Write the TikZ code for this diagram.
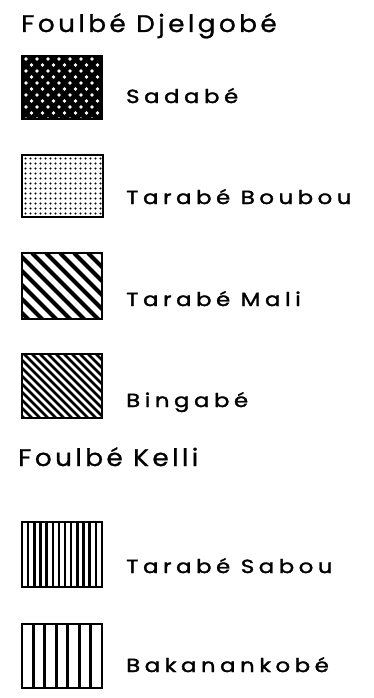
\documentclass[tikz,border=0pt]{standalone}
\usepackage{fontspec}
\setmainfont{Poppins}
\newfontfamily\titlefont[LetterSpace=14,FakeStretch=1.1,FakeBold=1]{Poppins}
\newfontfamily\labelfont[LetterSpace=24,FakeStretch=1.2,FakeBold=1.8]{Poppins}
\begin{document}
\begin{tikzpicture}[x=1pt,y=-1pt]
\useasboundingbox (0,0) rectangle (374,698);
\tikzset{
  legendbox/.style={draw=black, line width=2.8pt, minimum width=80pt, inner sep=0pt, outer sep=0pt},
  grouptitle/.style={anchor=base west, inner sep=0pt, font=\titlefont\fontsize{24}{24}\selectfont},
  legendlabel/.style={anchor=base west, inner sep=0pt, font=\labelfont\fontsize{19}{19}\selectfont},
}
% Box 1: black with white staggered dots
\begin{scope}
  \clip (22,56) rectangle (102,119);
  \fill[black] (22,56) rectangle (102,119);
  \foreach \r in {0,...,10} \foreach \c in {0,...,7}
    \fill[white] ({26+5.5*mod(\r,2)+11*\c},{59+6*\r}) circle (1.8pt);
\end{scope}
\node[legendbox, minimum height=63pt] (b1) at (62,87.5) {};
% Box 2: fine black dot grid
\begin{scope}
  \clip (22,155) rectangle (103,217);
  \foreach \r in {0,...,12} \foreach \c in {0,...,15}
    \fill[black] ({25.5+5*\c},{158.5+5*\r}) circle (1.2pt);
\end{scope}
\node[legendbox, minimum width=81pt, minimum height=62pt] (b2) at (62.5,186) {};
% Box 3: wide diagonal lines
\begin{scope}
  \clip (22,253) rectangle (102,319);
  \foreach \k in {0,...,13}
    \draw[line width=4.2pt] ({-80+14*\k},253) -- ({20+14*\k},353);
\end{scope}
\node[legendbox, minimum height=66pt] (b3) at (62,286) {};
% Box 4: fine diagonal lines
\begin{scope}
  \clip (22,354) rectangle (102,418);
  \foreach \k in {0,...,23}
    \draw[line width=2.6pt] ({-80+8*\k},354) -- ({20+8*\k},454);
\end{scope}
\node[legendbox, minimum height=64pt] (b4) at (62,386) {};
% Box 5: fine vertical lines
\begin{scope}
  \clip (22,522) rectangle (102,587);
  \foreach \k in {1,...,12}
    \draw[line width=2.4pt] ({22+6.154*\k},522) -- ({22+6.154*\k},587);
\end{scope}
\node[legendbox, minimum height=65pt] (b5) at (62,554.5) {};
% Box 6: wide vertical lines
\begin{scope}
  \clip (22,624) rectangle (102,688);
  \foreach \k in {1,...,6}
    \draw[line width=2.8pt] ({22+11.43*\k},624) -- ({22+11.43*\k},688);
\end{scope}
\node[legendbox, minimum height=64pt] (b6) at (62,656) {};
% Texts
\node[grouptitle] (t1) at (21,32) {Foulbé Djelgobé};
\node[legendlabel] (l1) at (126,103) {Sadabé};
\node[legendlabel] (l2) at (126,204) {Tarabé Boubou};
\node[legendlabel] (l3) at (126,306) {Tarabé Mali};
\node[legendlabel] (l4) at (126,407) {Bingabé};
\node[grouptitle] (t2) at (18,466) {Foulbé Kelli};
\node[legendlabel] (l5) at (126,573) {Tarabé Sabou};
\node[legendlabel] (l6) at (126,672) {Bakanankobé};
\end{tikzpicture}
\end{document}
